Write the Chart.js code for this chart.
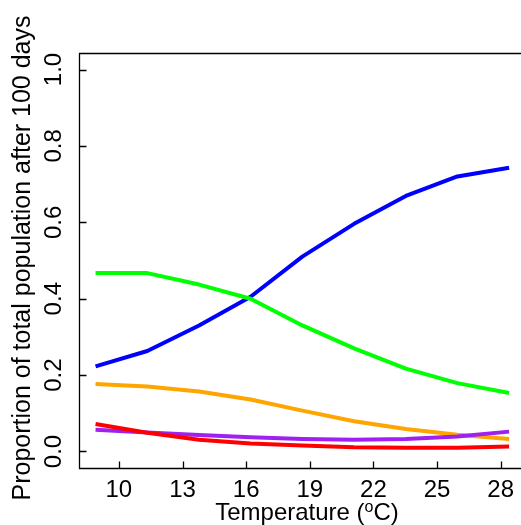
<!DOCTYPE html>
<html><head><meta charset="utf-8">
<script src="https://cdn.jsdelivr.net/npm/chart.js@4"></script>
<style>html,body{margin:0;padding:0;background:#fff;overflow:hidden}#wrap{width:521px;height:525px}</style>
</head><body><div id="wrap"><canvas id="c" width="521" height="525"></canvas></div>
<script>
const temperatures = [8.9, 11.34, 13.78, 16.21, 18.65, 21.09, 23.53, 25.96, 28.4];
const blueSeries   = [0.223, 0.263, 0.330, 0.405, 0.510, 0.596, 0.669, 0.720, 0.743];
const greenSeries  = [0.467, 0.467, 0.437, 0.400, 0.330, 0.270, 0.217, 0.179, 0.153];
const orangeSeries = [0.177, 0.170, 0.157, 0.136, 0.107, 0.079, 0.059, 0.044, 0.033];
const purpleSeries = [0.057, 0.050, 0.043, 0.037, 0.033, 0.031, 0.033, 0.039, 0.052];
const redSeries    = [0.072, 0.049, 0.031, 0.021, 0.016, 0.011, 0.010, 0.010, 0.013];
const xTicks = [10, 13, 16, 19, 22, 25, 28];
const yTicks = [0, 0.2, 0.4, 0.6, 0.8, 1.0];
const yTickLabels = ['0.0', '0.2', '0.4', '0.6', '0.8', '1.0'];
const xTitleMain = 'Temperature (';
const xTitleSup = 'o';
const xTitleEnd = 'C)';
const yTitle = 'Proportion of total population after 100 days';

const FONT = '"Liberation Sans", Arial, Helvetica, sans-serif';

function pts(ys) { return temperatures.map((t, i) => ({ x: t, y: ys[i] })); }
function ds(ys, color, order) {
  return { data: pts(ys), borderColor: color, backgroundColor: color, borderWidth: 4,
    pointRadius: 0, tension: 0, fill: false, order: order, borderCapStyle: 'butt', borderJoinStyle: 'round' };
}

const axesPlugin = {
  id: 'rAxes',
  afterDraw(chart) {
    const ctx = chart.ctx, xs = chart.scales.x, ys = chart.scales.y, a = chart.chartArea;
    ctx.save();
    ctx.strokeStyle = '#000';
    ctx.lineWidth = 1.3;
    const L = Math.round(a.left) + 0.5, T = Math.round(a.top) + 0.5, B = Math.round(a.bottom) + 0.5;
    ctx.beginPath();
    ctx.moveTo(a.right + 2, T); ctx.lineTo(L, T); ctx.lineTo(L, B); ctx.lineTo(a.right + 2, B);
    ctx.stroke();
    // ticks (inward)
    ctx.beginPath();
    xTicks.forEach(v => { const px = Math.round(xs.getPixelForValue(v)) + 0.5; ctx.moveTo(px, B); ctx.lineTo(px, B - 7); });
    yTicks.forEach(v => { const py = Math.round(ys.getPixelForValue(v)) + 0.5; ctx.moveTo(L, py); ctx.lineTo(L + 7, py); });
    ctx.stroke();
    ctx.fillStyle = '#000';
    // x tick labels
    ctx.font = '24px ' + FONT;
    ctx.textAlign = 'center'; ctx.textBaseline = 'alphabetic';
    xTicks.forEach(v => ctx.fillText(String(v), xs.getPixelForValue(v), 497));
    // y tick labels rotated
    yTicks.forEach((v, i) => {
      ctx.save();
      ctx.translate(61, ys.getPixelForValue(v));
      ctx.rotate(-Math.PI / 2);
      ctx.fillText(yTickLabels[i], 0, 0);
      ctx.restore();
    });
    // y title
    ctx.save();
    ctx.font = '25px ' + FONT;
    ctx.translate(30, 258);
    ctx.rotate(-Math.PI / 2);
    ctx.fillText(yTitle, 0, 0);
    ctx.restore();
    // x title with superscript
    const cx = 307;
    ctx.font = '24px ' + FONT;
    const w1 = ctx.measureText(xTitleMain).width, w3 = ctx.measureText(xTitleEnd).width;
    ctx.font = '16px ' + FONT;
    const w2 = ctx.measureText(xTitleSup).width;
    let x0 = cx - (w1 + w2 + w3) / 2;
    ctx.textAlign = 'left';
    ctx.font = '24px ' + FONT;
    ctx.fillText(xTitleMain, x0, 520);
    ctx.font = '16px ' + FONT;
    ctx.fillText(xTitleSup, x0 + w1, 512);
    ctx.font = '24px ' + FONT;
    ctx.fillText(xTitleEnd, x0 + w1 + w2, 520);
    ctx.restore();
  }
};

new Chart(document.getElementById('c'), {
  type: 'line',
  data: { datasets: [
    ds(blueSeries, '#0000FF', 5),
    ds(greenSeries, '#00FF00', 4),
    ds(orangeSeries, '#FFA500', 3),
    ds(purpleSeries, '#A020F0', 2),
    ds(redSeries, '#FF0000', 1)
  ] },
  options: {
    responsive: false, animation: false, devicePixelRatio: 1,
    layout: { padding: { left: 79, top: 53, right: 0, bottom: 57 } },
    plugins: { legend: { display: false }, tooltip: { enabled: false } },
    scales: {
      x: { type: 'linear', display: false, min: 8.12, max: 28.96 },
      y: { type: 'linear', display: false, min: -0.0432, max: 1.0432 }
    }
  },
  plugins: [axesPlugin]
});
</script></body></html>
